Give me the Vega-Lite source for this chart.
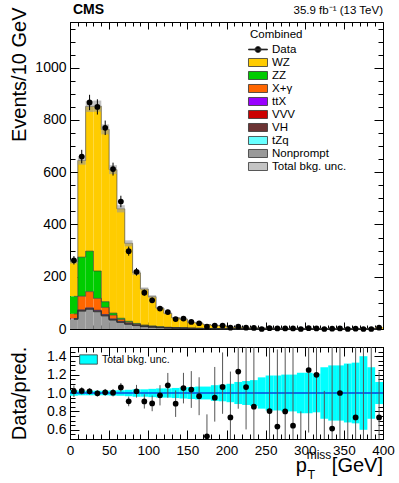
{
"$schema": "https://vega.github.io/schema/vega-lite/v6.json",
"padding": {"left": 8, "top": 2, "right": 0, "bottom": 0},
"background": "white",
"config": {
  "font": "Liberation Sans",
  "view": {"stroke": "black", "strokeWidth": 1},
  "axis": {"domainColor": "black", "tickColor": "black", "labelColor": "black", "titleColor": "black", "grid": false, "labelFlush": false, "labelOverlap": false, "domainWidth": 1, "tickWidth": 1},
  "legend": {"labelColor": "black", "titleColor": "black", "padding": 0}
},
"datasets": {
  "procs": [{"key":"NP","ord":1},{"key":"tZq","ord":2},{"key":"VH","ord":3},{"key":"VVV","ord":4},{"key":"ttX","ord":5},{"key":"Xg","ord":6},{"key":"ZZ","ord":7},{"key":"WZ","ord":8}],
  "h": [
{"lo":0,"hi":10,"mid":5,"d":263,"dlo":246.8,"dhi":279.2,"r":1.019,"rlo":0.956,"rhi":1.082,"blo":0.97,"bhi":1.03,"ulo":250.3,"uhi":265.7,"WZ":133.1,"ZZ":67,"Xg":18,"ttX":0.8,"VVV":0.4,"VH":1.5,"tZq":0.2,"NP":37},
{"lo":10,"hi":20,"mid":15,"d":660,"dlo":634.3,"dhi":685.7,"r":1.023,"rlo":0.983,"rhi":1.063,"blo":0.975,"bhi":1.025,"ulo":628.9,"uhi":661.1,"WZ":369.8,"ZZ":150,"Xg":52,"ttX":1.5,"VVV":0.8,"VH":2.5,"tZq":0.4,"NP":68},
{"lo":20,"hi":30,"mid":25,"d":867,"dlo":837.6,"dhi":896.4,"r":1.018,"rlo":0.983,"rhi":1.052,"blo":0.975,"bhi":1.025,"ulo":830.7,"uhi":873.3,"WZ":554,"ZZ":155,"Xg":62,"ttX":2,"VVV":1,"VH":2.5,"tZq":0.5,"NP":75},
{"lo":30,"hi":40,"mid":35,"d":850,"dlo":820.8,"dhi":879.2,"r":0.996,"rlo":0.962,"rhi":1.03,"blo":0.975,"bhi":1.025,"ulo":831.7,"uhi":874.3,"WZ":631,"ZZ":105,"Xg":45,"ttX":2.3,"VVV":1.1,"VH":2,"tZq":0.6,"NP":66},
{"lo":40,"hi":50,"mid":45,"d":770,"dlo":742.3,"dhi":797.7,"r":1.008,"rlo":0.972,"rhi":1.044,"blo":0.975,"bhi":1.025,"ulo":744.9,"uhi":783.1,"WZ":659.5,"ZZ":22,"Xg":27,"ttX":2.3,"VVV":1.1,"VH":1.5,"tZq":0.6,"NP":50},
{"lo":50,"hi":60,"mid":55,"d":612,"dlo":587.3,"dhi":636.7,"r":1.003,"rlo":0.963,"rhi":1.044,"blo":0.972,"bhi":1.028,"ulo":592.9,"uhi":627.1,"WZ":549.1,"ZZ":8,"Xg":14,"ttX":2.1,"VVV":1,"VH":1.2,"tZq":0.6,"NP":34},
{"lo":60,"hi":70,"mid":65,"d":488,"dlo":465.9,"dhi":510.1,"r":1.061,"rlo":1.013,"rhi":1.109,"blo":0.97,"bhi":1.03,"ulo":446.2,"uhi":473.8,"WZ":418.8,"ZZ":5,"Xg":7,"ttX":1.9,"VVV":0.9,"VH":0.9,"tZq":0.5,"NP":25},
{"lo":70,"hi":80,"mid":75,"d":298,"dlo":280.7,"dhi":315.3,"r":0.909,"rlo":0.856,"rhi":0.961,"blo":0.965,"bhi":1.035,"ulo":316.5,"uhi":339.5,"WZ":298.5,"ZZ":4,"Xg":4,"ttX":1.6,"VVV":0.8,"VH":0.6,"tZq":0.5,"NP":18},
{"lo":80,"hi":90,"mid":85,"d":219,"dlo":204.2,"dhi":233.8,"r":1.019,"rlo":0.95,"rhi":1.088,"blo":0.96,"bhi":1.04,"ulo":206.4,"uhi":223.6,"WZ":193.7,"ZZ":3,"Xg":2.5,"ttX":1.3,"VVV":0.7,"VH":0.4,"tZq":0.4,"NP":13},
{"lo":90,"hi":100,"mid":95,"d":139,"dlo":127.2,"dhi":150.8,"r":0.908,"rlo":0.831,"rhi":0.986,"blo":0.96,"bhi":1.04,"ulo":146.9,"uhi":159.1,"WZ":137.6,"ZZ":2.5,"Xg":1.5,"ttX":1.1,"VVV":0.6,"VH":0.3,"tZq":0.4,"NP":9},
{"lo":100,"hi":110,"mid":105,"d":110,"dlo":99.5,"dhi":120.5,"r":0.887,"rlo":0.802,"rhi":0.972,"blo":0.955,"bhi":1.045,"ulo":118.4,"uhi":129.6,"WZ":112.1,"ZZ":2,"Xg":1,"ttX":0.9,"VVV":0.5,"VH":0.2,"tZq":0.3,"NP":7},
{"lo":110,"hi":120,"mid":115,"d":78,"dlo":69.2,"dhi":86.8,"r":0.975,"rlo":0.865,"rhi":1.085,"blo":0.95,"bhi":1.05,"ulo":76,"uhi":84,"WZ":71.2,"ZZ":1.5,"Xg":0.7,"ttX":0.7,"VVV":0.4,"VH":0.2,"tZq":0.3,"NP":5},
{"lo":120,"hi":130,"mid":125,"d":65,"dlo":56.9,"dhi":73.1,"r":1.083,"rlo":0.948,"rhi":1.218,"blo":0.95,"bhi":1.05,"ulo":57,"uhi":63,"WZ":53.1,"ZZ":1.2,"Xg":0.5,"ttX":0.6,"VVV":0.3,"VH":0.1,"tZq":0.2,"NP":4},
{"lo":130,"hi":140,"mid":135,"d":38,"dlo":31.8,"dhi":44.2,"r":0.884,"rlo":0.74,"rhi":1.028,"blo":0.945,"bhi":1.055,"ulo":40.6,"uhi":45.4,"WZ":37.5,"ZZ":1,"Xg":0.4,"ttX":0.5,"VVV":0.3,"VH":0.1,"tZq":0.2,"NP":3},
{"lo":140,"hi":150,"mid":145,"d":40,"dlo":33.7,"dhi":46.3,"r":1.053,"rlo":0.887,"rhi":1.219,"blo":0.94,"bhi":1.06,"ulo":35.7,"uhi":40.3,"WZ":33.5,"ZZ":0.8,"Xg":0.3,"ttX":0.4,"VVV":0.2,"VH":0.1,"tZq":0.2,"NP":2.5},
{"lo":150,"hi":160,"mid":155,"d":27,"dlo":21.8,"dhi":32.2,"r":1.038,"rlo":0.838,"rhi":1.238,"blo":0.935,"bhi":1.065,"ulo":24.3,"uhi":27.7,"WZ":22.5,"ZZ":0.6,"Xg":0.2,"ttX":0.3,"VVV":0.2,"VH":0.1,"tZq":0.1,"NP":2},
{"lo":160,"hi":170,"mid":165,"d":22,"dlo":17.3,"dhi":26.7,"r":0.965,"rlo":0.759,"rhi":1.171,"blo":0.93,"bhi":1.07,"ulo":21.2,"uhi":24.4,"WZ":19.9,"ZZ":0.5,"Xg":0.2,"ttX":0.3,"VVV":0.2,"VH":0.1,"tZq":0.1,"NP":1.5},
{"lo":170,"hi":180,"mid":175,"d":9,"dlo":6.06,"dhi":13.06,"r":0.529,"rlo":0.356,"rhi":0.768,"blo":0.93,"bhi":1.07,"ulo":15.8,"uhi":18.2,"WZ":14.9,"ZZ":0.4,"Xg":0.1,"ttX":0.2,"VVV":0.1,"VH":0,"tZq":0.1,"NP":1.2},
{"lo":180,"hi":190,"mid":185,"d":13,"dlo":9.44,"dhi":17.58,"r":0.949,"rlo":0.689,"rhi":1.283,"blo":0.915,"bhi":1.085,"ulo":12.5,"uhi":14.9,"WZ":11.9,"ZZ":0.3,"Xg":0.1,"ttX":0.2,"VVV":0.1,"VH":0,"tZq":0.1,"NP":1},
{"lo":190,"hi":200,"mid":195,"d":13,"dlo":9.44,"dhi":17.58,"r":1.066,"rlo":0.774,"rhi":1.441,"blo":0.91,"bhi":1.09,"ulo":11.1,"uhi":13.3,"WZ":10.6,"ZZ":0.3,"Xg":0.1,"ttX":0.2,"VVV":0.1,"VH":0,"tZq":0.1,"NP":0.8},
{"lo":200,"hi":210,"mid":205,"d":5,"dlo":2.84,"dhi":8.38,"r":0.735,"rlo":0.418,"rhi":1.233,"blo":0.9,"bhi":1.1,"ulo":6.1,"uhi":7.5,"WZ":5.55,"ZZ":0.2,"Xg":0.1,"ttX":0.1,"VVV":0.1,"VH":0,"tZq":0.05,"NP":0.7},
{"lo":210,"hi":220,"mid":215,"d":9,"dlo":6.06,"dhi":13.06,"r":1.233,"rlo":0.829,"rhi":1.789,"blo":0.88,"bhi":1.12,"ulo":6.4,"uhi":8.2,"WZ":6.15,"ZZ":0.2,"Xg":0.1,"ttX":0.1,"VVV":0.1,"VH":0,"tZq":0.05,"NP":0.6},
{"lo":220,"hi":230,"mid":225,"d":5,"dlo":2.84,"dhi":8.38,"r":1.064,"rlo":0.604,"rhi":1.783,"blo":0.87,"bhi":1.13,"ulo":4.1,"uhi":5.3,"WZ":3.65,"ZZ":0.2,"Xg":0.1,"ttX":0.1,"VVV":0.1,"VH":0,"tZq":0.05,"NP":0.5},
{"lo":230,"hi":240,"mid":235,"d":4,"dlo":2.09,"dhi":7.16,"r":0.851,"rlo":0.444,"rhi":1.524,"blo":0.86,"bhi":1.14,"ulo":4,"uhi":5.4,"WZ":3.65,"ZZ":0.2,"Xg":0.1,"ttX":0.1,"VVV":0.1,"VH":0,"tZq":0.05,"NP":0.5},
{"lo":240,"hi":250,"mid":245,"d":0,"dlo":0,"dhi":1.84,"r":null,"rlo":0,"rhi":0.46,"blo":0.83,"bhi":1.17,"ulo":3.3,"uhi":4.7,"WZ":3.1,"ZZ":0.15,"Xg":0.1,"ttX":0.1,"VVV":0.1,"VH":0,"tZq":0.05,"NP":0.4},
{"lo":250,"hi":260,"mid":255,"d":3,"dlo":1.37,"dhi":5.92,"r":0.804,"rlo":0.367,"rhi":1.587,"blo":0.81,"bhi":1.19,"ulo":3,"uhi":4.4,"WZ":2.83,"ZZ":0.15,"Xg":0.1,"ttX":0.1,"VVV":0.1,"VH":0,"tZq":0.05,"NP":0.4},
{"lo":260,"hi":270,"mid":265,"d":2,"dlo":0.71,"dhi":4.64,"r":0.635,"rlo":0.225,"rhi":1.473,"blo":0.81,"bhi":1.19,"ulo":2.55,"uhi":3.75,"WZ":2.4,"ZZ":0.15,"Xg":0.05,"ttX":0.1,"VVV":0.1,"VH":0,"tZq":0.05,"NP":0.3},
{"lo":270,"hi":280,"mid":275,"d":2,"dlo":0.71,"dhi":4.64,"r":0.8,"rlo":0.283,"rhi":1.855,"blo":0.8,"bhi":1.2,"ulo":2,"uhi":3,"WZ":1.75,"ZZ":0.15,"Xg":0.05,"ttX":0.1,"VVV":0.1,"VH":0,"tZq":0.05,"NP":0.3},
{"lo":280,"hi":290,"mid":285,"d":2,"dlo":0.71,"dhi":4.64,"r":0.645,"rlo":0.228,"rhi":1.497,"blo":0.8,"bhi":1.2,"ulo":2.5,"uhi":3.7,"WZ":2.4,"ZZ":0.1,"Xg":0.05,"ttX":0.1,"VVV":0.1,"VH":0,"tZq":0.05,"NP":0.3},
{"lo":290,"hi":300,"mid":295,"d":0,"dlo":0,"dhi":1.84,"r":null,"rlo":0,"rhi":0.8,"blo":0.78,"bhi":1.22,"ulo":1.8,"uhi":2.8,"WZ":1.7,"ZZ":0.1,"Xg":0.05,"ttX":0.1,"VVV":0.1,"VH":0,"tZq":0.05,"NP":0.2},
{"lo":300,"hi":310,"mid":305,"d":3,"dlo":1.37,"dhi":5.92,"r":1.25,"rlo":0.57,"rhi":2.466,"blo":0.78,"bhi":1.22,"ulo":1.9,"uhi":2.9,"WZ":1.85,"ZZ":0.1,"Xg":0.05,"ttX":0.1,"VVV":0.05,"VH":0,"tZq":0.05,"NP":0.2},
{"lo":310,"hi":320,"mid":315,"d":2,"dlo":0.71,"dhi":4.64,"r":1.198,"rlo":0.424,"rhi":2.777,"blo":0.79,"bhi":1.21,"ulo":1.32,"uhi":2.02,"WZ":1.12,"ZZ":0.1,"Xg":0.05,"ttX":0.1,"VVV":0.05,"VH":0,"tZq":0.05,"NP":0.2},
{"lo":320,"hi":330,"mid":325,"d":0,"dlo":0,"dhi":1.84,"r":null,"rlo":0,"rhi":1.023,"blo":0.72,"bhi":1.28,"ulo":1.3,"uhi":2.3,"WZ":1.25,"ZZ":0.1,"Xg":0.05,"ttX":0.1,"VVV":0.05,"VH":0,"tZq":0.05,"NP":0.2},
{"lo":330,"hi":340,"mid":335,"d":1,"dlo":0.17,"dhi":3.3,"r":0.613,"rlo":0.106,"rhi":2.025,"blo":0.7,"bhi":1.3,"ulo":1.14,"uhi":2.12,"WZ":1.08,"ZZ":0.1,"Xg":0.05,"ttX":0.1,"VVV":0.05,"VH":0,"tZq":0.05,"NP":0.2},
{"lo":340,"hi":350,"mid":345,"d":2,"dlo":0.71,"dhi":4.64,"r":1,"rlo":0.354,"rhi":2.319,"blo":0.7,"bhi":1.3,"ulo":1.4,"uhi":2.6,"WZ":1.55,"ZZ":0.1,"Xg":0.05,"ttX":0.1,"VVV":0.05,"VH":0,"tZq":0.05,"NP":0.1},
{"lo":350,"hi":360,"mid":355,"d":0,"dlo":0,"dhi":1.84,"r":null,"rlo":0,"rhi":1.315,"blo":0.68,"bhi":1.32,"ulo":0.95,"uhi":1.85,"WZ":0.95,"ZZ":0.1,"Xg":0.05,"ttX":0.1,"VVV":0.05,"VH":0,"tZq":0.05,"NP":0.1},
{"lo":360,"hi":370,"mid":365,"d":1,"dlo":0.17,"dhi":3.3,"r":0.735,"rlo":0.127,"rhi":2.426,"blo":0.67,"bhi":1.33,"ulo":0.91,"uhi":1.81,"WZ":0.91,"ZZ":0.1,"Xg":0.05,"ttX":0.1,"VVV":0.05,"VH":0,"tZq":0.05,"NP":0.1},
{"lo":370,"hi":380,"mid":375,"d":0,"dlo":0,"dhi":1.84,"r":null,"rlo":0,"rhi":1.534,"blo":0.6,"bhi":1.4,"ulo":0.72,"uhi":1.68,"WZ":0.75,"ZZ":0.1,"Xg":0.05,"ttX":0.1,"VVV":0.05,"VH":0,"tZq":0.05,"NP":0.1},
{"lo":380,"hi":390,"mid":385,"d":0,"dlo":0,"dhi":1.84,"r":null,"rlo":0,"rhi":1.674,"blo":0.72,"bhi":1.28,"ulo":0.79,"uhi":1.41,"WZ":0.65,"ZZ":0.1,"Xg":0.05,"ttX":0.1,"VVV":0.05,"VH":0,"tZq":0.05,"NP":0.1},
{"lo":390,"hi":400,"mid":395,"d":5,"dlo":2.84,"dhi":8.38,"r":0.735,"rlo":0.418,"rhi":1.233,"blo":0.88,"bhi":1.12,"ulo":5.98,"uhi":7.62,"WZ":6.15,"ZZ":0.1,"Xg":0.05,"ttX":0.1,"VVV":0.05,"VH":0,"tZq":0.05,"NP":0.3}
  ]
},
"bounds": "flush",
"spacing": 18,
"vconcat": [
 {
  "width": 313, "height": 307,
  "data": {"name": "h"},
  "resolve": {"axis": {"x": "independent", "y": "independent"}},
  "layer": [
   {
    "transform": [
      {"fold": ["WZ","ZZ","Xg","ttX","VVV","VH","tZq","NP"], "as": ["key","value"]},
      {"lookup": "key", "from": {"data": {"name": "procs"}, "key": "key", "fields": ["ord"]}},
      {"stack": "value", "groupby": ["lo"], "sort": [{"field": "ord", "order": "ascending"}], "as": ["y0","y1"]}
    ],
    "mark": {"type": "bar"},
    "encoding": {
      "x": {"field": "lo", "type": "quantitative", "scale": {"domain": [0,400], "nice": false, "zero": false},
            "axis": {"orient": "bottom", "values": [0,10,20,30,40,50,60,70,80,90,100,110,120,130,140,150,160,170,180,190,200,210,220,230,240,250,260,270,280,290,300,310,320,330,340,350,360,370,380,390,400], "labels": false, "title": null,
                     "tickSize": {"condition": {"test": "datum.value % 50 === 0", "value": -7}, "value": -4}}},
      "x2": {"field": "hi"},
      "y": {"field": "y0", "type": "quantitative", "scale": {"domain": [0,1175], "nice": false},
            "axis": {"orient": "left", "values": [0,50,100,150,200,250,300,350,400,450,500,550,600,650,700,750,800,850,900,950,1000,1050,1100,1150], "format": "d",
                     "labelExpr": "datum.value % 200 === 0 ? datum.label : ''",
                     "tickSize": {"condition": {"test": "datum.value % 200 === 0", "value": -9}, "value": -5},
                     "labelPadding": 13, "labelFontSize": 14,
                     "title": "Events/10 GeV", "titleFontSize": 20, "titleFontWeight": "normal", "titleAngle": -90, "titleAlign": "right", "titleBaseline": "alphabetic", "titleX": -45, "titleY": -15}},
      "y2": {"field": "y1"},
      "color": {"field": "key", "type": "nominal",
        "scale": {"domain": ["Data","WZ","ZZ","Xg","ttX","VVV","VH","tZq","NP","Unc"],
                  "range": ["#000000","#ffcc00","#00cc00","#ff6600","#9900ff","#cc0000","#6b3333","#66ffff","#999999","#c4c4c4"]},
        "legend": {"title": "Combined", "orient": "none", "legendX": 180, "legendY": 7,
          "symbolType": {"expr": "datum.value === 'Data' ? 'M-1.73,-0.08H1.73V0.08H-1.73Z M0.55,0A0.55,0.55,0,1,1,-0.55,0A0.55,0.55,0,1,1,0.55,0Z' : 'M-1.73,-0.73H1.73V0.73H-1.73Z'"},
          "symbolSize": 121, "symbolStrokeColor": "#333333", "symbolStrokeWidth": 0.8, "symbolOffset": 2,
          "labelOffset": 8, "labelFontSize": 11.5, "titleFontSize": 11.5, "titleFontWeight": "normal", "titlePadding": 3, "rowPadding": 1,
          "labelExpr": "datum.label === 'Xg' ? 'X+γ' : datum.label === 'NP' ? 'Nonprompt' : datum.label === 'Unc' ? 'Total bkg. unc.' : datum.label"}}
    }
   },
   {
    "transform": [
      {"fold": ["WZ","ZZ","Xg","ttX","VVV","VH","tZq","NP"], "as": ["key","value"]},
      {"lookup": "key", "from": {"data": {"name": "procs"}, "key": "key", "fields": ["ord"]}},
      {"stack": "value", "groupby": ["lo"], "sort": [{"field": "ord", "order": "ascending"}], "as": ["y0","y1"]}
    ],
    "mark": {"type": "line", "interpolate": "step", "color": "#333333", "strokeWidth": 0.6},
    "encoding": {
      "x": {"field": "mid", "type": "quantitative", "axis": null},
      "y": {"field": "y1", "type": "quantitative", "axis": null},
      "detail": {"field": "key"}
    }
   },
   {
    "mark": {"type": "bar", "color": "#9a9a9a", "opacity": 0.6},
    "encoding": {
      "x": {"field": "lo", "type": "quantitative",
            "axis": {"orient": "top", "values": [0,10,20,30,40,50,60,70,80,90,100,110,120,130,140,150,160,170,180,190,200,210,220,230,240,250,260,270,280,290,300,310,320,330,340,350,360,370,380,390,400], "labels": false, "title": null,
                     "tickSize": {"condition": {"test": "datum.value % 50 === 0", "value": -7}, "value": -4}}},
      "x2": {"field": "hi"},
      "y": {"field": "ulo", "type": "quantitative",
            "axis": {"orient": "right", "values": [0,50,100,150,200,250,300,350,400,450,500,550,600,650,700,750,800,850,900,950,1000,1050,1100,1150], "labels": false, "title": null,
                     "tickSize": {"condition": {"test": "datum.value % 200 === 0", "value": -9}, "value": -5}}},
      "y2": {"field": "uhi"}
    }
   },
   {
    "mark": {"type": "rule", "color": "#000000", "strokeWidth": 1},
    "encoding": {
      "x": {"field": "mid", "type": "quantitative", "axis": null},
      "y": {"field": "dlo", "type": "quantitative", "axis": null},
      "y2": {"field": "dhi"}
    }
   },
   {
    "mark": {"type": "circle", "color": "#000000", "opacity": 1, "size": 33},
    "encoding": {
      "x": {"field": "mid", "type": "quantitative", "axis": null},
      "y": {"field": "d", "type": "quantitative", "axis": null}
    }
   },
   {
    "data": {"values": [{}]},
    "mark": {"type": "text", "text": "CMS", "fontWeight": "bold", "fontSize": 14, "align": "left", "baseline": "alphabetic", "dx": 3, "dy": -8, "color": "#000000"},
    "encoding": {
      "x": {"datum": 0, "type": "quantitative", "axis": null},
      "y": {"datum": 1175, "type": "quantitative", "axis": null}
    }
   },
   {
    "data": {"values": [{}]},
    "mark": {"type": "text", "text": "35.9 fb⁻¹ (13 TeV)", "fontSize": 11.5, "align": "right", "baseline": "alphabetic", "dy": -8, "color": "#000000"},
    "encoding": {
      "x": {"datum": 400, "type": "quantitative", "axis": null},
      "y": {"datum": 1175, "type": "quantitative", "axis": null}
    }
   }
  ]
 },
 {
  "width": 313, "height": 92,
  "data": {"name": "h"},
  "resolve": {"axis": {"x": "independent", "y": "independent"}},
  "layer": [
   {
    "mark": {"type": "bar", "clip": true},
    "encoding": {
      "x": {"field": "lo", "type": "quantitative", "scale": {"domain": [0,400], "nice": false, "zero": false},
            "axis": {"orient": "bottom", "values": [0,10,20,30,40,50,60,70,80,90,100,110,120,130,140,150,160,170,180,190,200,210,220,230,240,250,260,270,280,290,300,310,320,330,340,350,360,370,380,390,400],
                     "labelExpr": "datum.value % 50 === 0 ? datum.label : ''", "title": null,
                     "tickSize": {"condition": {"test": "datum.value % 50 === 0", "value": -9}, "value": -5},
                     "labelPadding": 13, "labelFontSize": 13.5}},
      "x2": {"field": "hi"},
      "y": {"field": "blo", "type": "quantitative", "scale": {"domain": [0.5,1.5], "nice": false, "zero": false},
            "axis": {"orient": "left", "values": [0.5,0.55,0.6,0.65,0.7,0.75,0.8,0.85,0.9,0.95,1,1.05,1.1,1.15,1.2,1.25,1.3,1.35,1.4,1.45,1.5], "format": ".1f",
                     "labelExpr": "indexof([0.6,0.8,1,1.2,1.4], datum.value) >= 0 ? datum.label : ''",
                     "tickSize": {"condition": {"test": "indexof([0.6,0.8,1,1.2,1.4], datum.value) >= 0", "value": -9}, "value": -5},
                     "labelPadding": 13, "labelFontSize": 14,
                     "title": "Data/pred.", "titleFontSize": 20, "titleFontWeight": "normal", "titleAngle": -90, "titleAlign": "center", "titleBaseline": "alphabetic", "titleX": -45, "titleY": 46}},
      "y2": {"field": "bhi"},
      "fill": {"datum": "Total bkg. unc.", "type": "nominal", "scale": {"range": ["#00ffff"]},
        "legend": {"title": null, "orient": "none", "legendX": 13, "legendY": 332,
          "symbolType": "M-1.77,-0.93H1.77V0.93H-1.77Z", "symbolSize": 100, "symbolStrokeColor": "#333333", "symbolStrokeWidth": 0.8,
          "labelOffset": 8, "labelFontSize": 10.5}}
    }
   },
   {
    "data": {"values": [{}]},
    "mark": {"type": "rule", "color": "#0a46dc", "strokeWidth": 1.5},
    "encoding": {
      "y": {"datum": 1, "type": "quantitative", "axis": null}
    }
   },
   {
    "mark": {"type": "rule", "color": "#555555", "strokeWidth": 1, "clip": true},
    "encoding": {
      "x": {"field": "mid", "type": "quantitative",
            "axis": {"orient": "top", "values": [0,10,20,30,40,50,60,70,80,90,100,110,120,130,140,150,160,170,180,190,200,210,220,230,240,250,260,270,280,290,300,310,320,330,340,350,360,370,380,390,400], "labels": false, "title": null,
                     "tickSize": {"condition": {"test": "datum.value % 50 === 0", "value": -9}, "value": -5}}},
      "y": {"field": "rlo", "type": "quantitative",
            "axis": {"orient": "right", "values": [0.5,0.55,0.6,0.65,0.7,0.75,0.8,0.85,0.9,0.95,1,1.05,1.1,1.15,1.2,1.25,1.3,1.35,1.4,1.45,1.5], "labels": false, "title": null,
                     "tickSize": {"condition": {"test": "indexof([0.6,0.8,1,1.2,1.4], datum.value) >= 0", "value": -9}, "value": -5}}},
      "y2": {"field": "rhi"}
    }
   },
   {
    "mark": {"type": "circle", "color": "#000000", "opacity": 1, "size": 33, "clip": true},
    "encoding": {
      "x": {"field": "mid", "type": "quantitative", "axis": null},
      "y": {"field": "r", "type": "quantitative", "axis": null}
    }
   },
   {
    "data": {"values": [{}]},
    "mark": {"type": "text", "text": "p", "fontSize": 20, "align": "left", "baseline": "alphabetic", "color": "#000000"},
    "encoding": {
      "x": {"datum": 288.5, "type": "quantitative", "axis": null},
      "y": {"datum": 0.14, "type": "quantitative", "axis": null}
    }
   },
   {
    "data": {"values": [{}]},
    "mark": {"type": "text", "text": "miss", "fontSize": 12, "align": "left", "baseline": "alphabetic", "color": "#000000"},
    "encoding": {
      "x": {"datum": 302.5, "type": "quantitative", "axis": null},
      "y": {"datum": 0.28, "type": "quantitative", "axis": null}
    }
   },
   {
    "data": {"values": [{}]},
    "mark": {"type": "text", "text": "T", "fontSize": 12.5, "align": "left", "baseline": "alphabetic", "color": "#000000"},
    "encoding": {
      "x": {"datum": 303.5, "type": "quantitative", "axis": null},
      "y": {"datum": 0.07, "type": "quantitative", "axis": null}
    }
   },
   {
    "data": {"values": [{}]},
    "mark": {"type": "text", "text": "[GeV]", "fontSize": 20, "align": "right", "baseline": "alphabetic", "color": "#000000"},
    "encoding": {
      "x": {"datum": 400, "type": "quantitative", "axis": null},
      "y": {"datum": 0.14, "type": "quantitative", "axis": null}
    }
   }
  ]
 }
]
}
